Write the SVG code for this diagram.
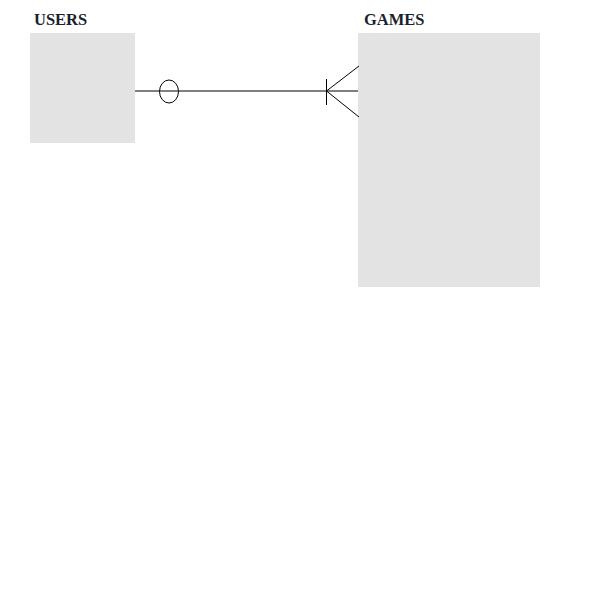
<svg xmlns="http://www.w3.org/2000/svg" width="600" height="600" viewBox="0 0 600 600">
<style>
.box{fill:#e3e3e3}
.title{font-family:"Liberation Serif",serif;font-weight:bold;font-size:16.5px;fill:#1b1f2e}
.ln{stroke:#000;stroke-width:1;fill:none}
</style>
<rect width="600" height="600" fill="#fff"/>
<g id="users">
<rect class="box" x="30" y="33" width="105" height="110"/>
<text class="title" x="34" y="24.5">USERS</text>
</g>
<g id="games">
<rect class="box" x="358" y="33" width="182" height="254"/>
<text class="title" x="364" y="24.5">GAMES</text>
</g>
<g id="connectors">
<line class="ln" x1="135" y1="91" x2="358" y2="91"/>
<ellipse class="ln" cx="169" cy="91.5" rx="9.5" ry="11.5"/>
<line class="ln" x1="326.5" y1="79" x2="326.5" y2="105"/>
<line class="ln" x1="326.5" y1="91" x2="359" y2="66"/>
<line class="ln" x1="326.5" y1="91" x2="359" y2="117"/>
</g>
</svg>
